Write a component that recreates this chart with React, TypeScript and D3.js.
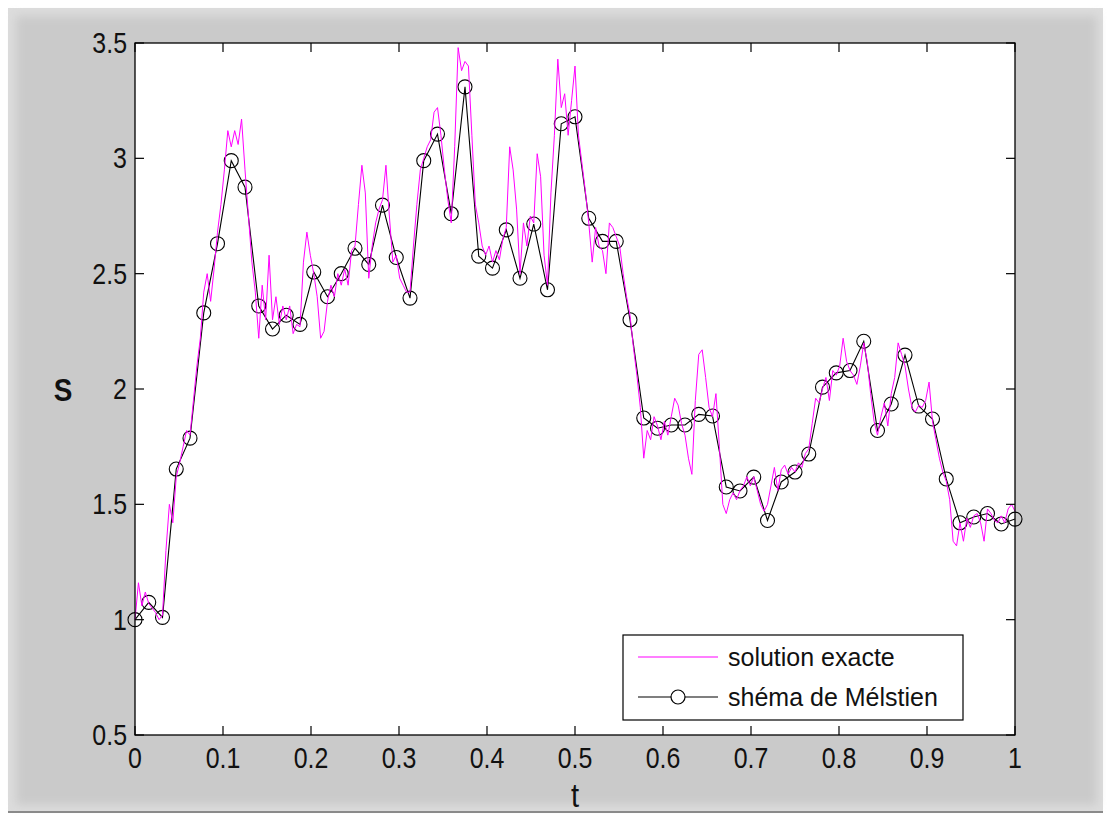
import * as d3 from "d3";

// Milstein scheme, dt = 1/64
const milstein = [
  1.0, 1.075, 1.01, 1.653, 1.787, 2.33, 2.63, 2.99, 2.875, 2.36,
  2.26, 2.32, 2.28, 2.507, 2.4, 2.5, 2.61, 2.54, 2.797, 2.57,
  2.394, 2.99, 3.105, 2.76, 3.31, 2.576, 2.524, 2.69, 2.48, 2.715,
  2.43, 3.15, 3.18, 2.74, 2.64, 2.64, 2.3, 1.874, 1.83, 1.844,
  1.844, 1.89, 1.883, 1.575, 1.558, 1.618, 1.43, 1.597, 1.64, 1.718,
  2.008, 2.07, 2.08, 2.207, 1.82, 1.935, 2.147, 1.926, 1.87, 1.61,
  1.42, 1.445, 1.46, 1.415, 1.436,
];

// exact solution, dt = 1/256
const exacte = [
  1.0, 1.16, 1.06, 1.12, 1.07, 1.05, 1.03, 1.0, 1.02, 1.3, 1.5, 1.42,
  1.62, 1.68, 1.75, 1.82, 1.8, 1.95, 2.1, 2.22, 2.42, 2.5, 2.38, 2.52,
  2.68, 2.8, 2.95, 3.12, 3.05, 3.12, 3.06, 3.17, 2.95, 2.75, 2.55, 2.42,
  2.22, 2.45, 2.3, 2.58, 2.3, 2.4, 2.28, 2.36, 2.3, 2.36, 2.24, 2.28,
  2.27, 2.55, 2.68, 2.58, 2.5, 2.4, 2.22, 2.25, 2.38, 2.45, 2.4, 2.5,
  2.45, 2.52, 2.45, 2.6, 2.62, 2.8, 2.97, 2.85, 2.48, 2.62, 2.72, 2.78,
  2.82, 2.97, 2.75, 2.55, 2.58, 2.48, 2.45, 2.42, 2.42, 2.62, 2.8, 2.95,
  3.0, 3.05, 3.08, 3.2, 3.22, 3.1, 2.95, 2.82, 2.72, 3.05, 3.48, 3.38,
  3.42, 3.4, 3.1, 2.8, 2.72, 2.62, 2.58, 2.62, 2.55, 2.6, 2.56, 2.65,
  2.7, 3.05, 2.95, 2.78, 2.5, 2.72, 2.62, 2.75, 2.72, 3.02, 2.92, 2.58,
  2.45, 2.85, 3.1, 3.43, 3.22, 3.28, 3.1, 3.25, 3.4, 3.1, 2.98, 2.86,
  2.72, 2.55, 2.7, 2.62, 2.6, 2.5, 2.72, 2.7, 2.66, 2.62, 2.5, 2.4,
  2.32, 2.18, 2.06, 1.92, 1.7, 1.82, 1.78, 1.88, 1.84, 1.78, 1.86, 1.8,
  1.88, 1.96, 1.93, 1.85, 1.8, 1.7, 1.63, 1.95, 2.15, 2.17, 2.05, 1.92,
  1.88, 1.98, 1.75, 1.5, 1.46, 1.52, 1.55, 1.52, 1.56, 1.58, 1.62, 1.58,
  1.62, 1.56, 1.5, 1.47, 1.5, 1.58, 1.66, 1.56, 1.65, 1.67, 1.63, 1.66,
  1.64, 1.68, 1.66, 1.72, 1.74, 1.85, 1.96, 1.94, 2.0, 2.05, 1.95, 2.08,
  2.06, 2.1, 2.22, 2.12, 2.08, 2.06, 2.02, 2.1, 2.2, 2.12, 1.98, 1.86,
  1.8, 1.88, 1.94, 1.84, 1.98, 2.05, 2.2, 2.15, 2.1, 2.0, 1.92, 1.9,
  1.93, 1.92, 1.95, 2.03, 1.86, 1.78, 1.7, 1.64, 1.6, 1.52, 1.34, 1.32,
  1.42, 1.34, 1.44, 1.4, 1.45, 1.46, 1.42, 1.34, 1.48, 1.46, 1.43, 1.42,
  1.45, 1.42, 1.48, 1.5, 1.47,
];

const xTicks = [0, 0.1, 0.2, 0.3, 0.4, 0.5, 0.6, 0.7, 0.8, 0.9, 1];
const xTickLabels = ["0", "0.1", "0.2", "0.3", "0.4", "0.5", "0.6", "0.7", "0.8", "0.9", "1"];
const yTicks = [0.5, 1, 1.5, 2, 2.5, 3, 3.5];
const yTickLabels = ["0.5", "1", "1.5", "2", "2.5", "3", "3.5"];
const legendLabels = ["solution exacte", "shéma de Mélstien"];

const W = 1111;
const H = 817;
const margin = { top: 43, right: 96, bottom: 82, left: 135 };
const font = "'Liberation Sans', Arial, sans-serif";

const App = () => {
  const x = d3
    .scaleLinear()
    .domain([0, 1])
    .range([margin.left, W - margin.right]);
  const y = d3
    .scaleLinear()
    .domain([0.5, 3.5])
    .range([H - margin.bottom, margin.top]);

  const nE = exacte.length - 1;
  const nM = milstein.length - 1;

  const line = d3
    .line<[number, number]>()
    .x((d) => x(d[0]))
    .y((d) => y(d[1]));

  const pathE = line(exacte.map((v, i) => [i / nE, v]));
  const pathM = line(milstein.map((v, i) => [i / nM, v]));

  const [x0, x1] = x.range();
  const [y0, y1] = y.range();
  const tl = 9;
  const sx = 0.86;

  return (
    <svg
      width={W}
      height={H}
      style={{ position: "absolute", left: 0, top: 0 }}
      fontFamily={font}
    >
      <defs>
        <filter id="soft" x="-5%" y="-5%" width="110%" height="110%">
          <feGaussianBlur stdDeviation="5" />
        </filter>
      </defs>
      <rect width={W} height={H} fill="#ffffff" />
      <rect x={8} y={8} width={W - 16} height={H - 14} fill="#dcdcdc" />
      <rect x={16} y={16} width={W - 30} height={H - 28} fill="#cacaca" filter="url(#soft)" />
      <line x1={8} x2={W - 8} y1={H - 5} y2={H - 5} stroke="#8a8a8a" strokeWidth={2} />

      <rect x={x0} y={y1} width={x1 - x0} height={y0 - y1} fill="#ffffff" />

      {/* Milstein drawn first, exact overdraws it */}
      <path d={pathM ?? ""} fill="none" stroke="#000" strokeWidth={1.1} />
      {milstein.map((v, i) => (
        <circle key={i} cx={x(i / nM)} cy={y(v)} r={7} fill="none" stroke="#000" strokeWidth={1.1} />
      ))}
      <path d={pathE ?? ""} fill="none" stroke="#ff00ff" strokeWidth={1} />

      {/* box and ticks */}
      <rect x={x0} y={y1} width={x1 - x0} height={y0 - y1} fill="none" stroke="#000" strokeWidth={1.3} />
      {xTicks.map((t) => (
        <g key={"x" + t}>
          <line x1={x(t)} x2={x(t)} y1={y0} y2={y0 - tl} stroke="#000" strokeWidth={1.2} />
          <line x1={x(t)} x2={x(t)} y1={y1} y2={y1 + tl} stroke="#000" strokeWidth={1.2} />
        </g>
      ))}
      {yTicks.map((t) => (
        <g key={"y" + t}>
          <line x1={x0} x2={x0 + tl} y1={y(t)} y2={y(t)} stroke="#000" strokeWidth={1.2} />
          <line x1={x1} x2={x1 - tl} y1={y(t)} y2={y(t)} stroke="#000" strokeWidth={1.2} />
        </g>
      ))}

      {xTicks.map((t, i) => (
        <text
          key={"xl" + t}
          transform={`translate(${x(t)},${y0 + 33}) scale(${sx},1)`}
          textAnchor="middle"
          fontSize={29}
          fill="#111"
        >
          {xTickLabels[i]}
        </text>
      ))}
      {yTicks.map((t, i) => (
        <text
          key={"yl" + t}
          transform={`translate(${x0 - 8},${y(t) + 10}) scale(${sx},1)`}
          textAnchor="end"
          fontSize={29}
          fill="#111"
        >
          {yTickLabels[i]}
        </text>
      ))}

      <text
        transform={`translate(${(x0 + x1) / 2},${H - 10}) scale(${sx},1)`}
        textAnchor="middle"
        fontSize={34}
        fill="#111"
      >
        t
      </text>
      <text
        transform={`translate(63,${y(2) + 12}) scale(0.9,1)`}
        textAnchor="middle"
        fontSize={31}
        fontWeight="bold"
        fill="#111"
      >
        S
      </text>

      {/* legend */}
      <g>
        <rect x={623} y={635} width={340} height={85} fill="#fff" stroke="#000" strokeWidth={1.2} />
        <line x1={638} x2={718} y1={657} y2={657} stroke="#ff00ff" strokeWidth={1.2} />
        <line x1={638} x2={718} y1={697} y2={697} stroke="#000" strokeWidth={1.2} />
        <circle cx={678} cy={697} r={7} fill="#fff" stroke="#000" strokeWidth={1.2} />
        <text x={728} y={666} fontSize={25} fill="#111">
          {legendLabels[0]}
        </text>
        <text x={728} y={706} fontSize={25} fill="#111">
          {legendLabels[1]}
        </text>
      </g>
    </svg>
  );
};

export default App;
